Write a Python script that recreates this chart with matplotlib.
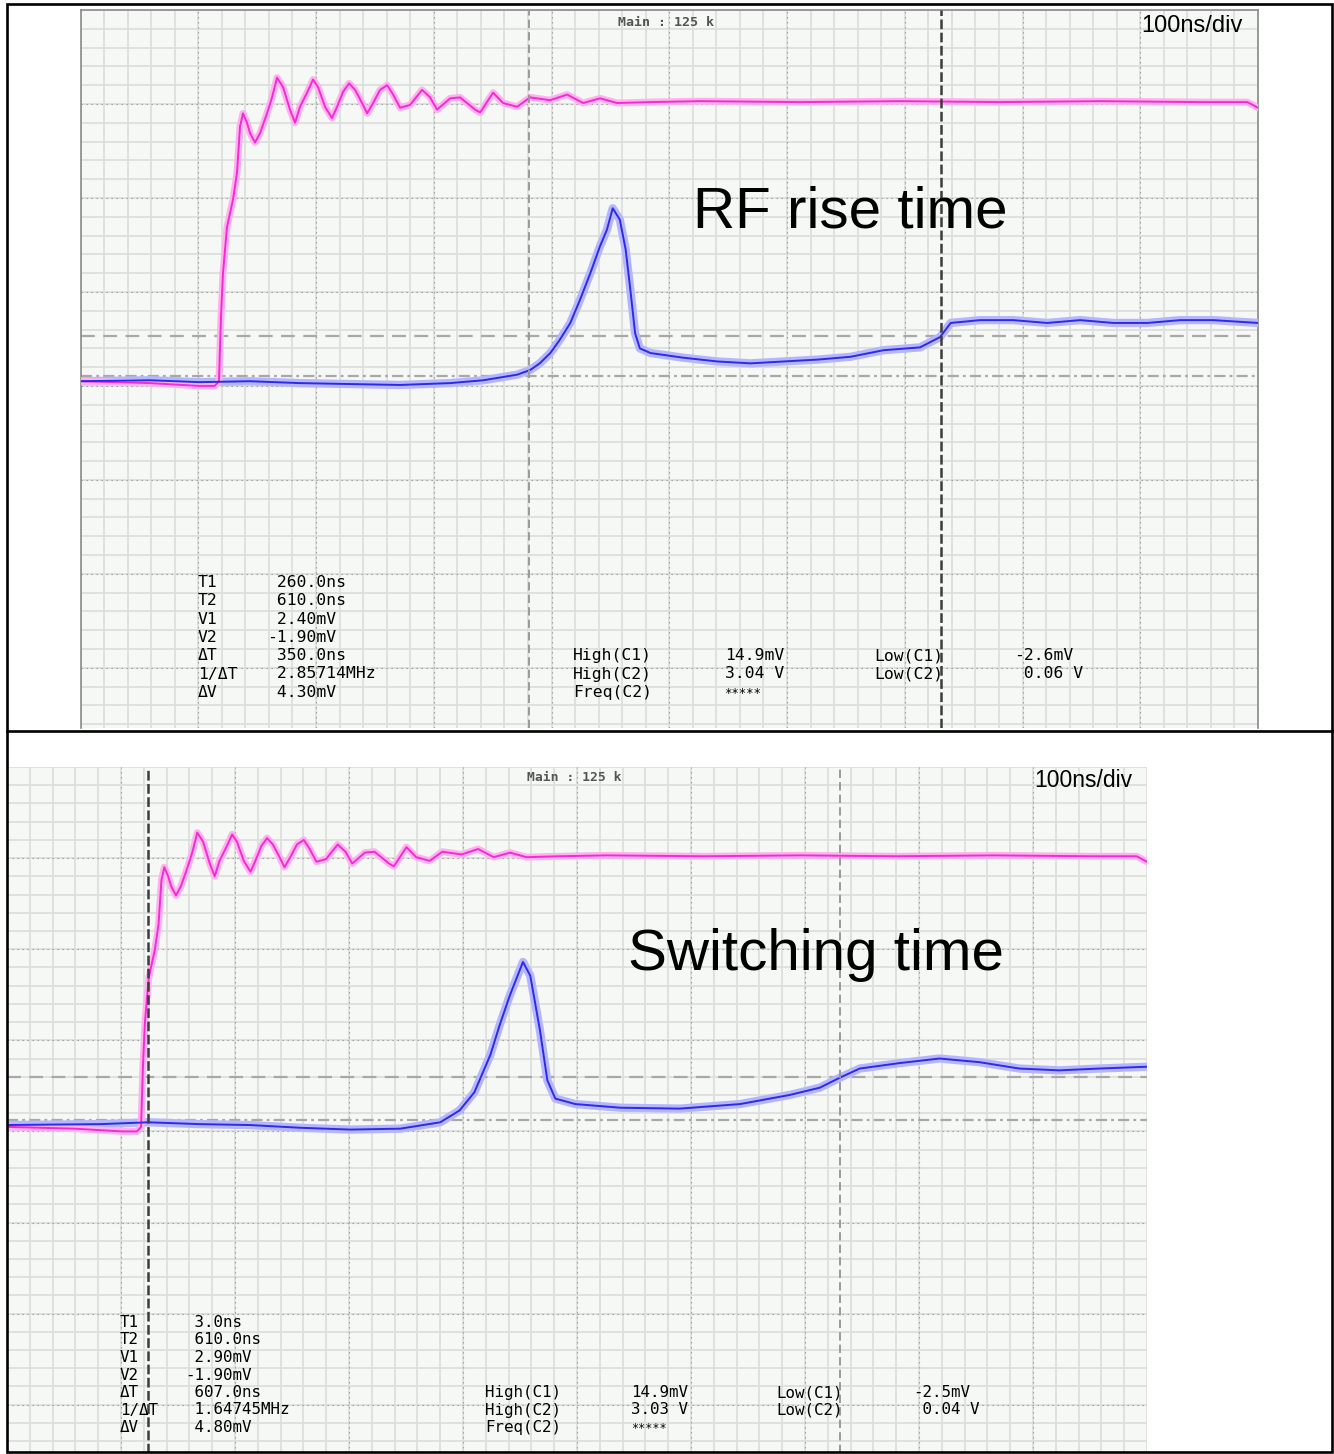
"""
Two oscilloscope captures (RF rise time / switching time) stacked in a table.
"""
import numpy as np
import matplotlib.pyplot as plt
from matplotlib.lines import Line2D
from matplotlib.patches import Rectangle

plt.rcParams["lines.scale_dashes"] = False

W, H = 1334, 1454

# time in ns, level in screen divisions (0 = centre line, +4 = top of screen)
C1_T = [-121, -62, -20, -7, -3.4, -1.7, 0.0, 3.4, 6.0, 8.5, 11.9, 14.5, 17.0, 20.4,
        23.0, 27.2, 31.5, 37.4, 41.7, 45.9, 51.0, 56.9, 61.2, 65.4, 71.4, 76.5, 80.7,
        86.7, 92.6, 96.9, 102.0, 107.1, 112.2, 118.1, 122.4, 127.5, 133.4, 139.4,
        144.5, 150.4, 158.9, 169.1, 175.9, 181.8, 192.9, 201.4, 214.1, 218.4, 229.4,
        237.9, 249.8, 260.8, 277.8, 292.3, 305.9, 320.3, 334.8, 362.8, 405, 490, 575,
        660, 745, 830, 870, 879]
C1_V = [0.05, 0.03, 0.0, 0.0, 0.05, 0.73, 1.20, 1.69, 1.84, 1.98, 2.27, 2.76, 2.90, 2.80,
        2.69, 2.59, 2.69, 2.90, 3.07, 3.28, 3.18, 2.94, 2.80, 2.97, 3.12, 3.26, 3.18,
        2.97, 2.85, 2.97, 3.13, 3.22, 3.15, 3.01, 2.90, 3.01, 3.15, 3.20,
        3.10, 2.96, 2.99, 3.15, 3.07, 2.94, 3.06, 3.07, 2.94, 2.91, 3.12,
        3.01, 2.97, 3.07, 3.04, 3.10, 3.01, 3.06, 3.01, 3.02, 3.03, 3.02, 3.03,
        3.02, 3.03, 3.02, 3.02, 2.96]

TOP_C2_T = [-121, -62, -20, 23, 65, 108, 150, 193, 221, 250, 261, 269, 278, 286, 295,
            303, 312, 320, 326, 331, 337, 342, 346, 350, 354, 363, 391, 420, 448, 476,
            505, 533, 561, 592, 609, 618, 643, 671, 700, 728, 756, 785, 813, 841, 879]
TOP_C2_V = [0.05, 0.06, 0.04, 0.05, 0.03, 0.02, 0.01, 0.03, 0.06, 0.12, 0.17, 0.24, 0.35,
            0.49, 0.67, 0.91, 1.20, 1.48, 1.66, 1.89, 1.77, 1.45, 1.02, 0.56, 0.40, 0.35,
            0.30, 0.26, 0.24, 0.26, 0.28, 0.31, 0.38, 0.41, 0.52, 0.67, 0.70, 0.70, 0.67,
            0.70, 0.67, 0.67, 0.70, 0.70, 0.67]

BOT_C2_T = [-121, -39, 3, 48, 92, 136, 180, 224, 259, 276, 289, 303, 311, 320, 331.6,
            338, 346.5, 353, 360, 377.6, 417, 469, 522, 565.6, 592, 609.6, 627, 662,
            697, 732, 767, 802, 837, 879]
BOT_C2_V = [0.07, 0.08, 0.10, 0.08, 0.07, 0.04, 0.02, 0.03, 0.10, 0.23, 0.43, 0.84, 1.16,
            1.49, 1.86, 1.71, 1.11, 0.56, 0.36, 0.30, 0.26, 0.25, 0.30, 0.40, 0.48, 0.59,
            0.69, 0.75, 0.80, 0.76, 0.69, 0.67, 0.69, 0.71]

# cursors
TOP_T1, TOP_T2 = 260.0, 610.0
BOT_T1, BOT_T2 = 3.0, 610.0
TOP_V_LEVELS = [0.53, 0.11]
BOT_V_LEVELS = [0.60, 0.12]

CURSOR_LABELS = ["T1", "T2", "V1", "V2", "ΔT", "1/ΔT", "ΔV"]
TOP_CURSOR_VALUES = [" 260.0ns", " 610.0ns", " 2.40mV", "-1.90mV", " 350.0ns",
                     " 2.85714MHz", " 4.30mV"]
BOT_CURSOR_VALUES = [" 3.0ns", " 610.0ns", " 2.90mV", "-1.90mV", " 607.0ns",
                     " 1.64745MHz", " 4.80mV"]
HIGH_LABELS = ["High(C1)", "High(C2)", "Freq(C2)"]
TOP_HIGH_VALUES = ["14.9mV", "3.04 V", "*****"]
BOT_HIGH_VALUES = ["14.9mV", "3.03 V", "*****"]
LOW_LABELS = ["Low(C1)", "Low(C2)"]
TOP_LOW_VALUES = ["-2.6mV", " 0.06 V"]
BOT_LOW_VALUES = ["-2.5mV", " 0.04 V"]

MONO = ["DejaVu Sans Mono"]
NARROW = ["Liberation Sans Narrow", "Liberation Sans", "DejaVu Sans"]


def px_axes(fig, left, top, right, bottom):
    return fig.add_axes([left / W, 1 - bottom / H, (right - left) / W, (bottom - top) / H])


def ftext(fig, x, y, s, **kw):
    return fig.text(x / W, 1 - y / H, s, **kw)


def draw_screen(ax, c2_t, c2_v, t1, t2, v_levels, active, ybot, framed):
    ax.set_xlim(-121, 879)
    ax.set_ylim(ybot, 4)
    ax.set_facecolor("#f6f8f6")
    ax.set_xticks([])
    ax.set_yticks([])
    for s in ax.spines.values():
        s.set_visible(False)
    if framed:
        for side in ["left", "top", "right"]:
            ax.spines[side].set_visible(True)
            ax.spines[side].set_color("#8a8a8a")
            ax.spines[side].set_linewidth(1.2)

    # fine grid + dotted division lines
    for x in np.arange(-121, 880, 20):
        ax.axvline(x, color="#dcdfdc", lw=1.3, zorder=0)
    for y in np.arange(-4, 4.01, 0.2):
        ax.axhline(y, color="#dcdfdc", lw=1.3, zorder=0)
    for x in np.arange(-21, 879, 100):
        ax.axvline(x, color="#9c9c9c", lw=0.8, dashes=(1.0, 2.6), zorder=1)
    for y in range(-3, 4):
        ax.axhline(y, color="#9c9c9c", lw=0.8, dashes=(1.0, 2.6), zorder=1)

    # voltage cursors
    ax.axhline(v_levels[0], color="#a8a8a8", lw=1.6, dashes=(10, 6), zorder=2)
    ax.axhline(v_levels[1], color="#a8a8a8", lw=1.6, dashes=(8, 3, 2, 3), zorder=2)

    # traces: pale persistence band plus the latest sweep
    ax.plot(c2_t, c2_v, color="#b6b6ff", lw=6, solid_joinstyle="round", zorder=3)
    ax.plot(C1_T, C1_V, color="#ffb2ee", lw=5, solid_joinstyle="round", zorder=3)
    ax.plot(C1_T, C1_V, color="#f22cd0", lw=1.4, zorder=4)
    ax.plot(c2_t, c2_v, color="#2b2be8", lw=1.4, zorder=4)

    # time cursors, the selected one drawn darker
    for t in (t1, t2):
        if t == active:
            ax.axvline(t, color="#3c3c3c", lw=1.8, dashes=(7, 2.5), zorder=5)
        else:
            ax.axvline(t, color="#9a9a9a", lw=1.4, dashes=(6, 3), zorder=5)


def draw_readout(fig, x_lab, x_val, x_high, x_hval, x_low, x_lval, y0, dy, size,
                 values, high_values, low_values):
    for i, (lab, val) in enumerate(zip(CURSOR_LABELS, values)):
        y = y0 + i * dy
        ftext(fig, x_lab, y, lab, family=MONO, fontsize=size, va="baseline")
        ftext(fig, x_val, y, val, family=MONO, fontsize=size, va="baseline")
    for i, (lab, val) in enumerate(zip(HIGH_LABELS, high_values)):
        y = y0 + (4 + i) * dy
        ftext(fig, x_high, y, lab, family=MONO, fontsize=size, va="baseline")
        fs = size * 0.75 if val.startswith("*") else size
        ftext(fig, x_hval, y, val, family=MONO, fontsize=fs, va="baseline")
    for i, (lab, val) in enumerate(zip(LOW_LABELS, low_values)):
        y = y0 + (4 + i) * dy
        ftext(fig, x_low, y, lab, family=MONO, fontsize=size, va="baseline")
        ftext(fig, x_lval, y, val, family=MONO, fontsize=size, va="baseline")


fig = plt.figure(figsize=(W / 100, H / 100), dpi=100)
fig.patch.set_facecolor("white")

# upper capture
ax1 = px_axes(fig, 80.5, 10, 1258, 728)
draw_screen(ax1, TOP_C2_T, TOP_C2_V, TOP_T1, TOP_T2, TOP_V_LEVELS, TOP_T2, -3.64, True)
ftext(fig, 666, 26, "Main : 125 k", family=MONO, fontsize=9.6, fontweight="bold",
      color="#555555", ha="center", va="baseline")
ftext(fig, 1243, 32, "100ns/div", family=NARROW, fontsize=17, ha="right", va="baseline")
ftext(fig, 693, 227, "RF rise time", family=["Liberation Sans", "DejaVu Sans"],
      fontsize=42, va="baseline")
draw_readout(fig, 198, 267, 573, 725, 874, 1014, 587, 18.3, 11.8,
             TOP_CURSOR_VALUES, TOP_HIGH_VALUES, TOP_LOW_VALUES)

# lower capture
ax2 = px_axes(fig, 7, 767, 1147, 1453)
draw_screen(ax2, BOT_C2_T, BOT_C2_V, BOT_T1, BOT_T2, BOT_V_LEVELS, BOT_T1, -3.53, False)
ftext(fig, 574, 781, "Main : 125 k", family=MONO, fontsize=9.4, fontweight="bold",
      color="#555555", ha="center", va="baseline")
ftext(fig, 1132, 787, "100ns/div", family=NARROW, fontsize=16.5, ha="right", va="baseline")
ftext(fig, 628, 970, "Switching time", family=["Liberation Sans", "DejaVu Sans"],
      fontsize=42, va="baseline")
draw_readout(fig, 120, 185, 485, 631, 776, 913, 1327, 17.5, 11.4,
             BOT_CURSOR_VALUES, BOT_HIGH_VALUES, BOT_LOW_VALUES)

# table borders
fig.add_artist(Rectangle((7 / W, 1 - 1452 / H), (1332 - 7) / W, (1452 - 4) / H,
                         transform=fig.transFigure, fill=False, ec="black", lw=1.9,
                         zorder=10))
fig.add_artist(Line2D([7 / W, 1332 / W], [1 - 731 / H, 1 - 731 / H],
                      transform=fig.transFigure, color="black", lw=1.9, zorder=10))

fig.savefig("out.png", dpi=100)
